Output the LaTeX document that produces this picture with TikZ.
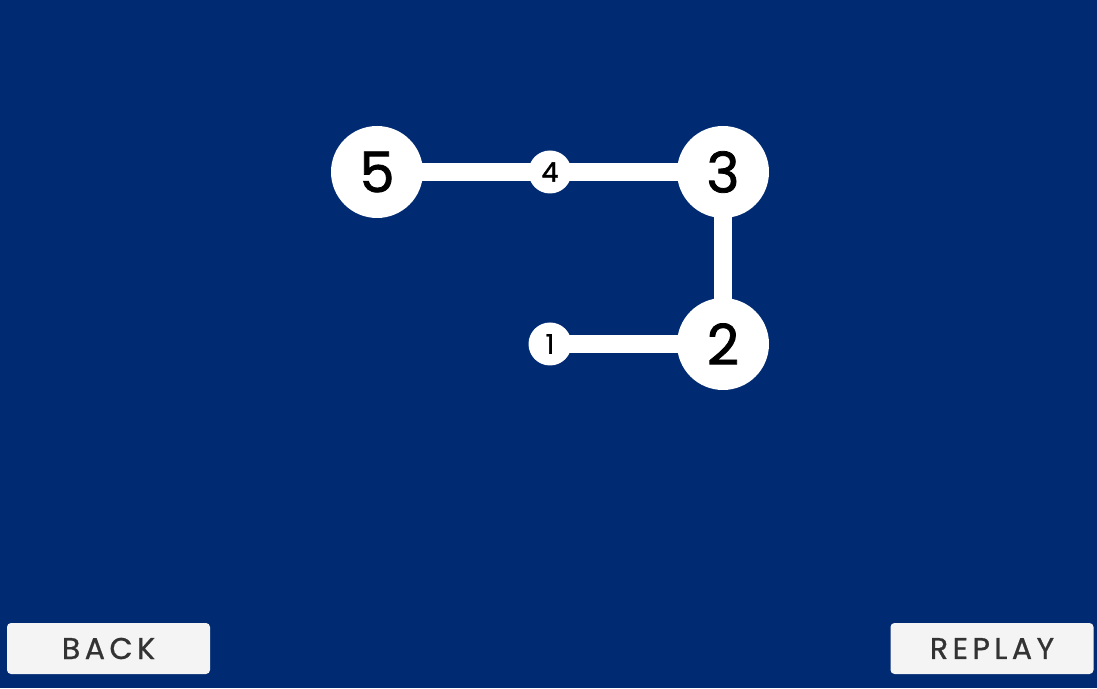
\documentclass[tikz,border=0pt]{standalone}
\usepackage{fontspec}
\setmainfont{Poppins}
\newfontfamily\numfont{Poppins}[FakeBold=1.4]
\newfontfamily\btnfont{Poppins}[FakeBold=0.8,LetterSpace=15]
\definecolor{bgblue}{RGB}{0,43,115}
\definecolor{btnfill}{RGB}{244,244,244}
\definecolor{btntext}{RGB}{51,51,51}
\begin{document}
\begin{tikzpicture}[x=1pt,y=1pt,
  big/.style={circle,fill=white,minimum size=92pt,inner sep=0pt,font=\numfont\fontsize{56}{56}\selectfont},
  small/.style={circle,fill=white,minimum size=43pt,inner sep=0pt,font=\numfont\fontsize{27}{27}\selectfont},
  link/.style={white,line width=18pt},
  btn/.style={rounded corners=4pt,fill=btnfill,minimum width=203pt,minimum height=51pt,inner sep=0pt,text=btntext,font=\btnfont\fontsize{30}{30}\selectfont}]
\fill[bgblue] (0,0) rectangle (1097,688);
\useasboundingbox (0,0) rectangle (1097,688);
\coordinate (c5) at (377,516);
\coordinate (c4) at (550,516);
\coordinate (c3) at (723,516);
\coordinate (c2) at (723,344);
\coordinate (c1) at (550,344);
\draw[link] (c5) -- (c3);
\draw[link] (c3) -- (c2);
\draw[link] (c2) -- (c1);
\node[big] (n5) at (c5) {5};
\node[small] (n4) at (c4) {4};
\node[big] (n3) at (c3) {3};
\node[big] (n2) at (c2) {2};
\node[small] (n1) at (c1) {1};
\node[btn] (back) at (108.5,39.5) {BACK};
\node[btn] (replay) at (992,39.5) {REPLAY};
\end{tikzpicture}
\end{document}
